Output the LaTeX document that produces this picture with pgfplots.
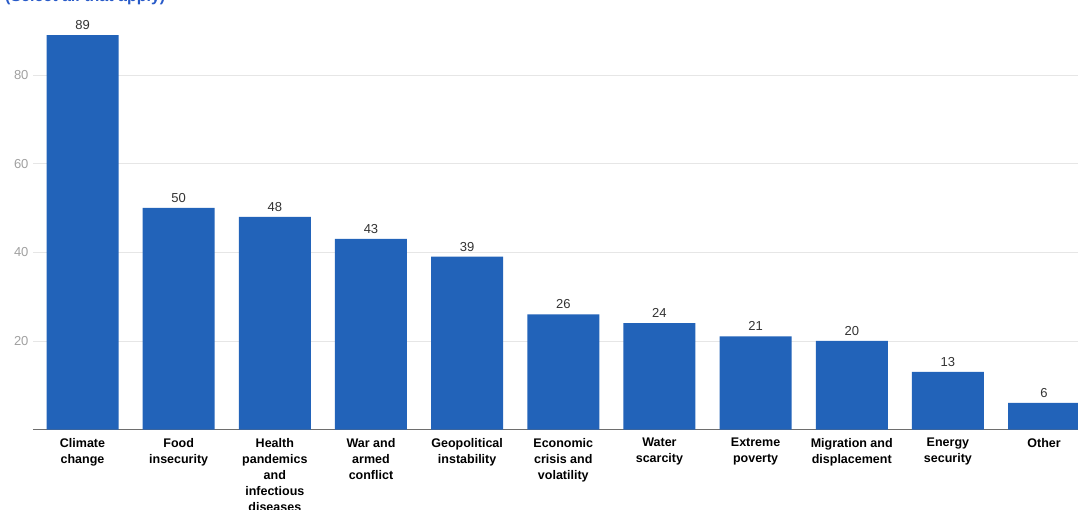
\documentclass[border=0pt]{standalone}
\usepackage{pgfplots}
\pgfplotsset{compat=1.18}
\usepackage{fontspec}
\setmainfont{Liberation Sans}
\definecolor{barblue}{RGB}{34,99,185}
\definecolor{titleblue}{RGB}{40,90,200}
\definecolor{valgray}{RGB}{51,51,51}
\definecolor{tickgray}{RGB}{160,160,160}
\definecolor{gridgray}{RGB}{230,230,230}
\definecolor{axisgray}{RGB}{110,110,110}
\begin{document}
\begin{tikzpicture}
\begin{axis}[
  scale only axis,
  width=1045pt, height=429.6pt,
  xmin=-0.515, xmax=10.353,
  ymin=0, ymax=96.9,
  ybar, bar width=72pt,
  axis x line*=bottom,
  axis y line*=left,
  y axis line style={draw=none},
  x axis line style={draw=axisgray, line width=1.3pt, -},
  xtick=data,
  xticklabels={{Climate\\change},{Food\\insecurity},{Health\\pandemics\\and\\infectious\\diseases},{War and\\armed\\conflict},{Geopolitical\\instability},{Economic\\crisis and\\volatility},{Water\\scarcity},{Extreme\\poverty},{Migration and\\displacement},{Energy\\security},{Other}},
  xticklabel style={align=center, font=\bfseries\fontsize{12.5}{16}\selectfont, text=black, yshift=-5pt},
  ytick={20,40,60,80},
  yticklabel style={font=\fontsize{13}{13}\selectfont, text=tickgray, xshift=-1pt},
  /pgf/number format/assume math mode=true,
  major tick length=0pt,
  ymajorgrids,
  grid style={gridgray, line width=0.8pt},
  nodes near coords,
  every node near coord/.append style={font=\fontsize{13}{13}\selectfont, text=valgray, yshift=2pt},
  clip=false,
]
\addplot[fill=barblue, draw=none] coordinates {
 (0,89) (1,50) (2,48) (3,43) (4,39) (5,26) (6,24) (7,21) (8,20) (9,13) (10,6)
};
\end{axis}
\node[anchor=base west, inner sep=0pt, font=\bfseries\fontsize{16}{16}\selectfont, text=titleblue] at (-28pt, 427.6pt) {(Select all that apply)};
\pgfresetboundingbox
\path[use as bounding box] (-33pt,-80.4pt) rectangle (1045pt,429.6pt);
\end{tikzpicture}
\end{document}
